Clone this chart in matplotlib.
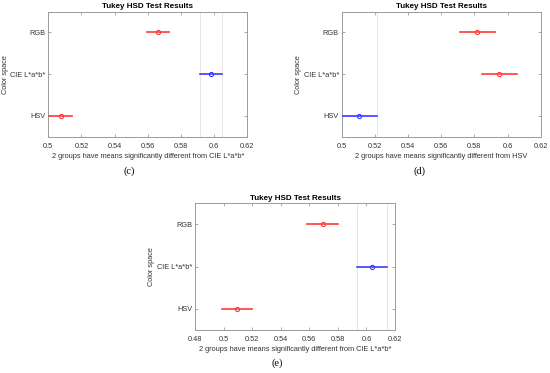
import matplotlib
matplotlib.use("Agg")
import matplotlib.pyplot as plt

plt.rcParams['font.family'] = ['Liberation Sans', 'DejaVu Sans']

groups = ['HSV', 'CIE L*a*b*', 'RGB']

# panel (c): means and comparison intervals
c_mean = [0.5077, 0.598, 0.566]
c_lo = [0.5006, 0.5915, 0.5597]
c_hi = [0.5141, 0.6046, 0.5726]
c_col = ['r', 'b', 'r']
c_xlabel = "2 groups have means significantly different from CIE L*a*b*"

# panel (d)
d_mean = [0.5106, 0.595, 0.5818]
d_lo = [0.5, 0.5848, 0.5715]
d_hi = [0.5211, 0.6057, 0.5924]
d_col = ['b', 'r', 'r']
d_xlabel = "2 groups have means significantly different from HSV"

# panel (e)
e_mean = [0.5094, 0.6037, 0.5694]
e_lo = [0.4989, 0.5932, 0.5586]
e_hi = [0.5199, 0.6142, 0.5799]
e_col = ['r', 'b', 'r']
e_xlabel = "2 groups have means significantly different from CIE L*a*b*"

W, H = 550, 373
fig = plt.figure(figsize=(W / 100, H / 100), dpi=100)

colors = {'r': '#ff3b3b', 'b': '#3b3bff'}
fs = 5.3


def panel(px, top, right, bottom, mean, lo, hi, col, xlabel, xticks, xlim, letter, lx, ly):
    ax = fig.add_axes([px / W, 1 - bottom / H, (right - px) / W, (bottom - top) / H])
    ref = col.index('b')
    for v in (lo[ref], hi[ref]):
        ax.axvline(v, color='#dcdcdc', lw=0.5, zorder=1)
    for i in range(len(groups)):
        c = colors[col[i]]
        ax.plot([lo[i], hi[i]], [i + 1, i + 1], color=c, lw=1.2, zorder=3)
        ax.plot(mean[i], i + 1, 'o', mfc='none', mec=c, ms=3, mew=0.8, zorder=4)
    ax.set_xlim(*xlim)
    ax.set_ylim(0.5, 3.5)
    ax.set_xticks(xticks)
    ax.set_xticklabels([('%g' % t) for t in xticks])
    ax.set_yticks([1, 2, 3])
    ax.set_yticklabels(groups)
    ax.tick_params(direction='in', length=2, width=0.5, color='#888888',
                   labelsize=fs, labelcolor='#333333', pad=2,
                   top=True, right=True)
    ax.tick_params(axis='x', pad=4.5)
    for s in ax.spines.values():
        s.set_color('#9a9a9a')
        s.set_linewidth(0.7)
    ax.set_xlabel(xlabel, fontsize=fs, color='#333333', labelpad=2)
    ax.set_ylabel('Color space', fontsize=fs, color='#333333', labelpad=1)
    ax.set_title('Tukey HSD Test Results', fontsize=5.8, fontweight='bold', pad=2.5)
    fig.text(lx / W, 1 - ly / H, letter, ha='center', va='center',
             fontsize=7.5, family='Liberation Serif')
    return ax


ticks1 = [0.5, 0.52, 0.54, 0.56, 0.58, 0.6, 0.62]
ticks2 = [0.48, 0.5, 0.52, 0.54, 0.56, 0.58, 0.6, 0.62]

panel(48.3, 11.5, 247.3, 136.7, c_mean, c_lo, c_hi, c_col, c_xlabel,
      ticks1, (0.5, 0.62), '(c)', 129, 171)
panel(341.7, 11.5, 540.7, 136.7, d_mean, d_lo, d_hi, d_col, d_xlabel,
      ticks1, (0.5, 0.62), '(d)', 419.5, 171)
panel(195, 203.3, 395, 330, e_mean, e_lo, e_hi, e_col, e_xlabel,
      ticks2, (0.48, 0.62), '(e)', 277, 362.7)

fig.savefig('out.png', dpi=100)
